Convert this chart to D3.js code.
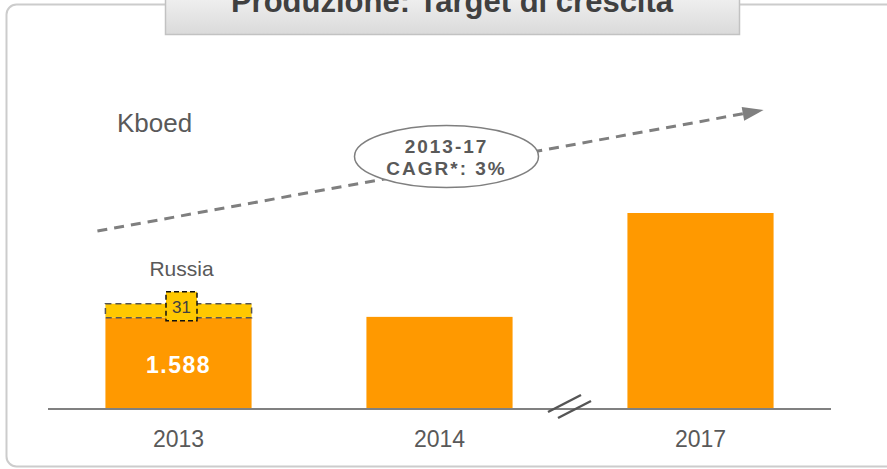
<!DOCTYPE html>
<html lang="it">
  <head>
    <meta charset="utf-8">
    <title>Produzione: Target di crescita</title>
    <script src="https://cdn.jsdelivr.net/npm/d3@7"></script>
    <style>
      body { margin: 0; background: #fff; }
      text { font-family: "Liberation Sans", Arial, sans-serif; }
    </style>
  </head>
  <body>
    <script>
    // chart values
    var years = ["2013", "2014", "2017"];
    var production = [1588, 1590, 1820];   // kboed, main bar
    var russia = [31, 0, 0];               // kboed, Russia slice on top
    var barLabels = ["1.588", "", ""];
    var titleText = "Produzione: Target di crescita";
    var unitText = "Kboed";
    var cagrText = ["2013-17", "CAGR*: 3%"];
    // trend arrow ends, in kboed (axis is broken, not zero based)
    var trendValues = [1780, 2048];

    var w = 887;
    var h = 469;
    var baseY = 409;

    var svg = d3.select("body")
                .append("svg")
                .attr("width", w)
                .attr("height", h);

    var defs = svg.append("defs");
    var grad = defs.append("linearGradient")
                   .attr("id", "titleGrad")
                   .attr("x1", 0).attr("y1", 0).attr("x2", 0).attr("y2", 1);
    grad.append("stop").attr("offset", "0%").attr("stop-color", "#f4f4f4");
    grad.append("stop").attr("offset", "100%").attr("stop-color", "#dadada");

    // outer frame
    svg.append("rect")
       .attr("x", 6.5).attr("y", 4.5)
       .attr("width", 900).attr("height", 462)
       .attr("rx", 10)
       .attr("fill", "none")
       .attr("stroke", "#cccccc")
       .attr("stroke-width", 2);

    // title tab (top is cut by the page edge, like the slide)
    svg.append("rect")
       .attr("x", 165.5).attr("y", -10)
       .attr("width", 574).attr("height", 44.5)
       .attr("fill", "url(#titleGrad)")
       .attr("stroke", "#c2c2c2")
       .attr("stroke-width", 1.5);
    svg.append("text")
       .attr("x", 452).attr("y", 12)
       .attr("text-anchor", "middle")
       .attr("font-size", 31)
       .attr("font-weight", "bold")
       .attr("fill", "#404040")
       .text(titleText);

    // scales
    var xScale = d3.scaleBand()
                   .domain(years)
                   .range([48, 831])
                   .paddingInner(0.44)
                   .paddingOuter(0.22);
    var yScale = d3.scaleLinear()
                   .domain([1386, 1820])
                   .range([baseY, 213]);
    var bw = xScale.bandwidth();

    // unit label
    svg.append("text")
       .attr("x", 117).attr("y", 132)
       .attr("font-size", 26)
       .attr("fill", "#595959")
       .text(unitText);

    // main bars
    svg.selectAll("rect.bar")
       .data(years)
       .enter()
       .append("rect")
       .attr("class", "bar")
       .attr("x", function(d) { return xScale(d); })
       .attr("y", function(d, i) { return yScale(production[i]); })
       .attr("width", bw)
       .attr("height", function(d, i) { return baseY - yScale(production[i]); })
       .attr("fill", "#ff9900");

    // Russia slice
    var rus = years.map(function(d, i) {
      return { year: d, base: production[i], v: russia[i] };
    }).filter(function(d) { return d.v > 0; });

    svg.selectAll("rect.rus")
       .data(rus)
       .enter()
       .append("rect")
       .attr("class", "rus")
       .attr("x", function(d) { return xScale(d.year); })
       .attr("y", function(d) { return yScale(d.base + d.v); })
       .attr("width", bw)
       .attr("height", function(d) { return yScale(d.base) - yScale(d.base + d.v); })
       .attr("fill", "#ffc800")
       .attr("stroke", "#555555")
       .attr("stroke-width", 1.5)
       .attr("stroke-dasharray", "6,4");

    rus.forEach(function(d) {
      var cx = xScale(d.year) + bw / 2 + 3;
      var yTop = yScale(d.base + d.v);
      var yBot = yScale(d.base);
      svg.append("rect")
         .attr("x", cx - 15.5).attr("y", yTop - 12)
         .attr("width", 31).attr("height", yBot - yTop + 15)
         .attr("fill", "#ffc800")
         .attr("stroke", "#111111")
         .attr("stroke-width", 1.5)
         .attr("stroke-dasharray", "5,3");
      svg.append("text")
         .attr("x", cx).attr("y", yBot - 5)
         .attr("text-anchor", "middle")
         .attr("font-size", 17)
         .attr("fill", "#404040")
         .text(d.v);
      svg.append("text")
         .attr("x", cx).attr("y", yTop - 28)
         .attr("text-anchor", "middle")
         .attr("font-size", 21)
         .attr("fill", "#595959")
         .text("Russia");
    });

    // value labels inside bars
    svg.selectAll("text.val")
       .data(years)
       .enter()
       .append("text")
       .attr("class", "val")
       .attr("x", function(d) { return xScale(d) + bw / 2; })
       .attr("y", 373)
       .attr("text-anchor", "middle")
       .attr("font-size", 23)
       .attr("font-weight", "bold")
       .attr("letter-spacing", 1.5)
       .attr("fill", "#ffffff")
       .text(function(d, i) { return barLabels[i]; });

    // x axis
    svg.append("line")
       .attr("x1", 48).attr("x2", 831)
       .attr("y1", baseY).attr("y2", baseY)
       .attr("stroke", "#808080")
       .attr("stroke-width", 2);

    svg.selectAll("text.year")
       .data(years)
       .enter()
       .append("text")
       .attr("class", "year")
       .attr("x", function(d) { return xScale(d) + bw / 2; })
       .attr("y", 446.5)
       .attr("text-anchor", "middle")
       .attr("font-size", 23)
       .attr("fill", "#595959")
       .text(function(d) { return d; });

    // axis break between 2014 and 2017
    var bx = (xScale("2014") + bw + xScale("2017")) / 2;
    [-5, 5].forEach(function(o) {
      svg.append("line")
         .attr("x1", bx + o - 17).attr("y1", baseY + 6 + o * 0.6)
         .attr("x2", bx + o + 16).attr("y2", baseY - 11 + o * 0.6)
         .attr("stroke", "#555555")
         .attr("stroke-width", 2.5);
    });

    // trend arrow
    var x0 = xScale("2013") - 8, y0 = yScale(trendValues[0]);
    var x1 = xScale("2017") + bw - 10, y1 = yScale(trendValues[1]);
    var ang = Math.atan2(y1 - y0, x1 - x0);
    var headLen = 21, headW = 7;
    var hx = x1 - headLen * Math.cos(ang), hy = y1 - headLen * Math.sin(ang);

    svg.append("line")
       .attr("x1", x0).attr("y1", y0)
       .attr("x2", hx).attr("y2", hy)
       .attr("stroke", "#7f7f7f")
       .attr("stroke-width", 3)
       .attr("stroke-dasharray", "10,7");
    svg.append("polygon")
       .attr("points", [
         [x1, y1],
         [hx - headW * Math.sin(ang), hy + headW * Math.cos(ang)],
         [hx + headW * Math.sin(ang), hy - headW * Math.cos(ang)]
       ].map(function(p) { return p.join(","); }).join(" "))
       .attr("fill", "#7f7f7f");

    // CAGR bubble
    var ex = 446.5, ey = 156.5;
    svg.append("ellipse")
       .attr("cx", ex).attr("cy", ey)
       .attr("rx", 92).attr("ry", 31)
       .attr("fill", "#ffffff")
       .attr("stroke", "#7f7f7f")
       .attr("stroke-width", 1.5);
    svg.selectAll("text.cagr")
       .data(cagrText)
       .enter()
       .append("text")
       .attr("class", "cagr")
       .attr("x", ex)
       .attr("y", function(d, i) { return 153 + i * 22; })
       .attr("text-anchor", "middle")
       .attr("font-size", 19)
       .attr("font-weight", "bold")
       .attr("letter-spacing", 2)
       .attr("fill", "#595959")
       .text(function(d) { return d; });
    </script>
  </body>
</html>
